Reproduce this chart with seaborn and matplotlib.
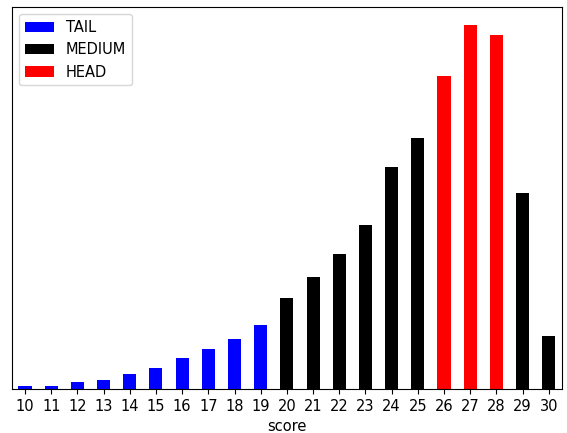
import pandas as pd
import matplotlib
matplotlib.use("Agg")
import matplotlib.pyplot as plt
import seaborn as sns

# data
scores = list(range(10, 31))
counts = [2.6, 3.3, 7, 9.3, 15.3, 21.3, 31.3, 40, 50, 64.3,
          91, 112, 135, 164, 222, 251, 314, 364.6, 354.3, 196, 53.3]
groups = ["TAIL"] * 10 + ["MEDIUM"] * 6 + ["HEAD"] * 3 + ["MEDIUM"] * 2
group_order = ["TAIL", "MEDIUM", "HEAD"]
group_colors = {"TAIL": "#0000ff", "MEDIUM": "#000000", "HEAD": "#ff0000"}

df = pd.DataFrame({"score": scores, "count": counts, "group": groups})
df["score"] = df["score"].astype(str)

fig, ax = plt.subplots(figsize=(5.67, 4.33), dpi=100)
fig.subplots_adjust(left=0.021, right=0.991, top=0.984, bottom=0.1016)

sns.barplot(data=df, x="score", y="count", hue="group", hue_order=group_order,
            palette=group_colors, dodge=False, width=0.5, saturation=1,
            order=[str(s) for s in scores], ax=ax)

ax.set_xlim(-0.5, len(scores) - 0.5)
ax.set_ylim(0, max(counts) * 1.05)
ax.set_yticks([])
ax.set_ylabel("")
ax.set_xlabel("score", fontsize=10.5)
ax.tick_params(axis="x", labelsize=10.5, rotation=0)
ax.legend(loc="upper left", fontsize=10.5)

plt.savefig("out.png", dpi=100)
